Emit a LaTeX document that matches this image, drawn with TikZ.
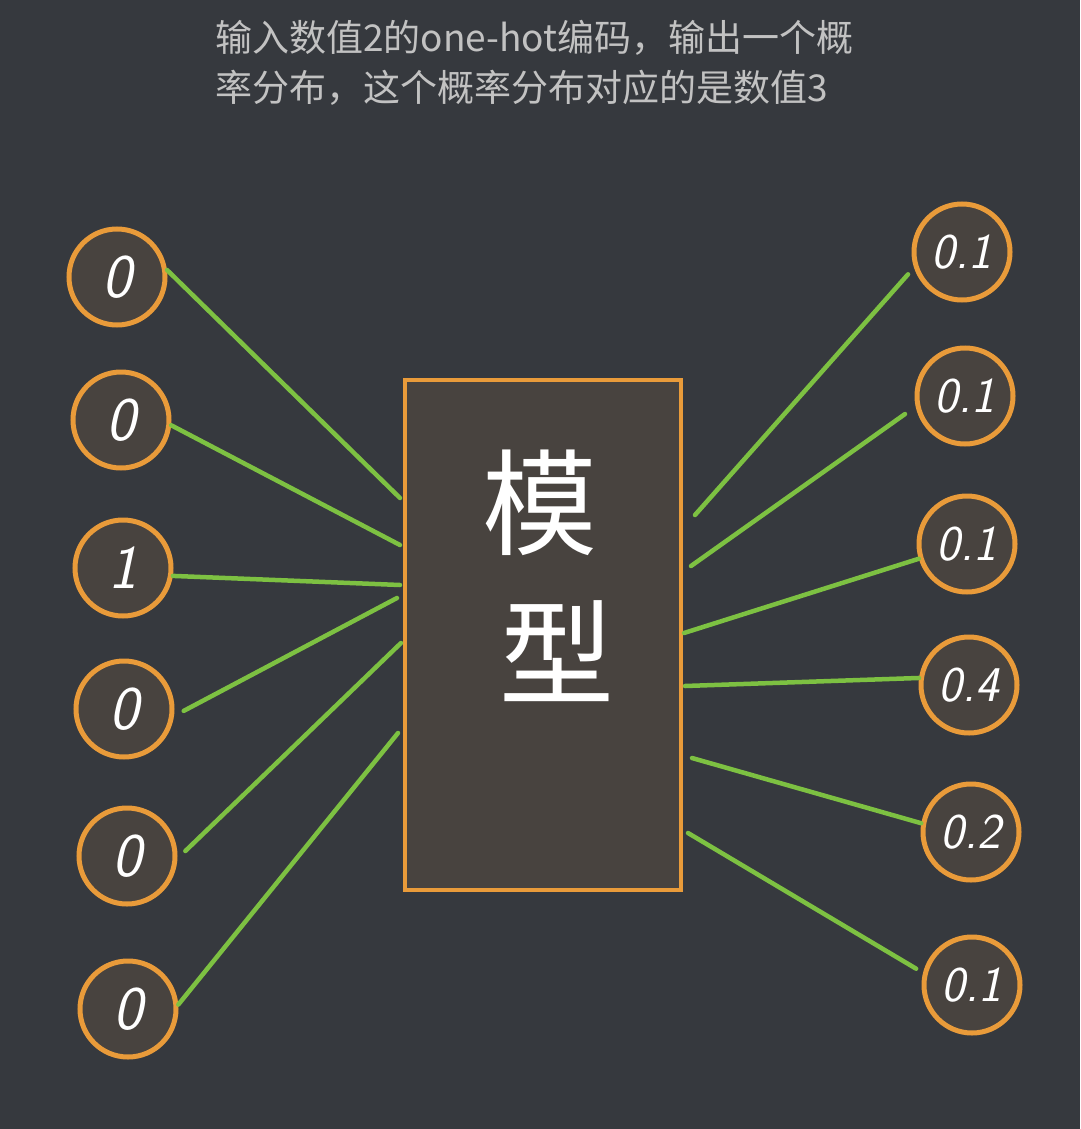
\documentclass[tikz,border=0pt]{standalone}
\usepackage{fontspec}
\newfontfamily\cjk{Noto Sans CJK SC}
\usepackage{tikz}
\usetikzlibrary{positioning}

\definecolor{bgdark}{HTML}{36393E}
\definecolor{boxfill}{HTML}{48433F}
\definecolor{ringorange}{HTML}{E99B3A}
\definecolor{linkgreen}{HTML}{7DC142}
\definecolor{notegray}{HTML}{C2C2C2}

\begin{document}
\begin{tikzpicture}[
	x=1pt, y=-1pt,
	every node/.style={text=white},
	note/.style={anchor=base west, inner sep=0pt, text=notegray, font=\cjk\fontsize{37}{44}\selectfont},
	input/.style={draw=ringorange, fill=boxfill, line width=5pt, circle, minimum size=96pt, inner sep=0pt, font=\sffamily\itshape\fontsize{62}{62}\selectfont},
	output/.style={input, font=\sffamily\itshape\fontsize{50}{50}\selectfont},
	model/.style={draw=ringorange, fill=boxfill, line width=4.5pt, minimum width=276pt, minimum height=510pt, inner sep=0pt},
	word/.style={inner sep=0pt, font=\cjk\fontsize{115}{115}\selectfont},
	link/.style={draw=linkgreen, line width=4.5pt, line cap=round}
	]
	
	\fill[bgdark] (0,0) rectangle (1080,1129);
	\useasboundingbox (0,0) rectangle (1080,1129);
	
	% Caption
	\node[note] (note1) at (215,52) {输入数值2的one-hot编码，输出一个概};
	\node[note] (note2) at (215,102) {率分布，这个概率分布对应的是数值3};
	
	% One-hot input
	\foreach \i/\x/\y/\v in {1/117/277/0, 2/121/420/0, 3/123/568/1, 4/124/709/0, 5/127/856/0, 6/128/1009/0}
		\node[input] (in\i) at (\x,\y) {\v};
	
	% Model
	\node[model] (model) at (543,635) {};
	\node[word] (mo) at (540,503) {模};
	\node[word] (xing) at (557,651) {型};
	
	% Probability output
	\foreach \i/\x/\y/\v in {1/962/252/0.1, 2/965/396/0.1, 3/967/544/0.1, 4/969/685/0.4, 5/971/832/0.2, 6/972/985/0.1}
		\node[output] (out\i) at (\x,\y) {\v};
	
	% Connections
	\foreach \i/\a/\g/\x/\y in {1/8/0/400/498, 2/-6/0/400/545, 3/-9/0/400/585, 4/-8/11/397/598, 5/-3/11/401/643, 6/5/0/398/733} {
		\coordinate (a\i) at (\x,\y);
		\draw[link, shorten <=\g pt] (in\i.\a) -- (a\i);
	}
	\foreach \i/\x/\y/\a/\g in {1/695/515/198/9, 2/691/566/192/13, 3/684/633/197/0, 4/685/686/172/0, 5/692/758/170/0, 6/688/833/166/8} {
		\coordinate (b\i) at (\x,\y);
		\draw[link, shorten >=\g pt] (b\i) -- (out\i.\a);
	}
	
\end{tikzpicture}
\end{document}
